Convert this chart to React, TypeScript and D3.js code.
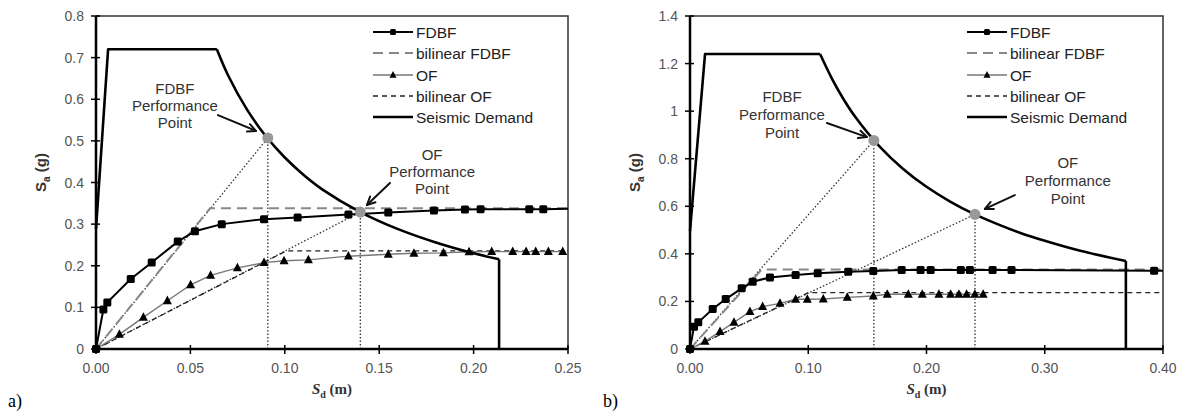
import React from 'react';
import * as d3 from 'd3';

type P = [number, number];

// ---------- Panel a) ----------
const fdbfA: P[] = [[0,0],[0.0039,0.095],[0.006,0.112],[0.0184,0.168],[0.0295,0.208],[0.0433,0.258],[0.0524,0.283],[0.0666,0.300],[0.089,0.312],[0.1068,0.316],[0.1337,0.323],[0.1548,0.328],[0.179,0.333],[0.1954,0.335],[0.2037,0.336],[0.2295,0.336],[0.2369,0.336]];
const fdbfATail: P = [0.25, 0.337];
const ofA: P[] = [[0,0],[0.0124,0.035],[0.0251,0.076],[0.0378,0.116],[0.0501,0.154],[0.0607,0.177],[0.0749,0.195],[0.089,0.2075],[0.0996,0.212],[0.1125,0.214],[0.1337,0.223],[0.1548,0.2275],[0.1684,0.230],[0.184,0.231],[0.1976,0.2335],[0.2096,0.234],[0.2207,0.234],[0.2278,0.234],[0.2329,0.234],[0.2396,0.234],[0.2472,0.234]];
const bilFdbfA: P[] = [[0,0],[0.0604,0.338],[0.25,0.338]];
const bilOfA: P[] = [[0,0],[0.1007,0.2355],[0.25,0.2355]];
const demandARise: P[] = [[0,0.288],[0.0064,0.72],[0.064,0.72]];
const demandAFall: P[] = [[0.064,0.72],[0.07,0.657],[0.08,0.575],[0.09,0.511],[0.10,0.46],[0.11,0.418],[0.12,0.383],[0.14,0.329],[0.16,0.288],[0.18,0.256],[0.20,0.23],[0.2135,0.2155]];
const ppA = { fdbf: [0.091, 0.507] as P, of: [0.14, 0.329] as P };
const yTicksA = [0, 0.1, 0.2, 0.3, 0.4, 0.5, 0.6, 0.7, 0.8];
const xTicksA = [0, 0.05, 0.1, 0.15, 0.2, 0.25];

// ---------- Panel b) ----------
const fdbfB: P[] = [[0,0],[0.0034,0.094],[0.007,0.112],[0.0192,0.168],[0.0302,0.21],[0.0437,0.255],[0.053,0.283],[0.0676,0.301],[0.0893,0.311],[0.108,0.318],[0.1338,0.325],[0.155,0.328],[0.179,0.332],[0.195,0.332],[0.2035,0.332],[0.229,0.332],[0.2367,0.332],[0.2559,0.332],[0.2719,0.332],[0.3925,0.329]];
const fdbfBTail: P = [0.4, 0.329];
const ofB: P[] = [[0,0],[0.0127,0.032],[0.0254,0.073],[0.0372,0.112],[0.0507,0.157],[0.0614,0.178],[0.0761,0.192],[0.0893,0.209],[0.0992,0.209],[0.1127,0.21],[0.133,0.217],[0.155,0.223],[0.1668,0.23],[0.1846,0.23],[0.1964,0.23],[0.2105,0.23],[0.2204,0.23],[0.2274,0.23],[0.2339,0.23],[0.2409,0.23],[0.2479,0.23]];
const bilFdbfB: P[] = [[0,0],[0.0606,0.334],[0.4,0.334]];
const bilOfB: P[] = [[0,0],[0.1,0.2367],[0.4,0.2367]];
const demandBRise: P[] = [[0,0.496],[0.0127,1.24],[0.11,1.24]];
const demandBFall: P[] = [[0.11,1.24],[0.12,1.137],[0.13,1.049],[0.14,0.974],[0.16,0.853],[0.18,0.758],[0.20,0.682],[0.22,0.62],[0.24,0.568],[0.26,0.525],[0.28,0.487],[0.30,0.455],[0.33,0.413],[0.3686,0.370]];
const ppB = { fdbf: [0.1555, 0.877] as P, of: [0.241, 0.566] as P };
const yTicksB = [0, 0.2, 0.4, 0.6, 0.8, 1.0, 1.2, 1.4];
const xTicksB = [0, 0.1, 0.2, 0.3, 0.4];

const legendItems = ['FDBF', 'bilinear FDBF', 'OF', 'bilinear OF', 'Seismic Demand'];
const annText = ['Performance', 'Point'];

interface Ann { text: string; at: P; from: P; to: P; }

interface PanelCfg {
  x0: number; x1: number; y0: number; y1: number;
  xMax: number; yMax: number;
  xTicks: number[]; yTicks: number[];
  yFmt: (v: number) => string;
  fdbf: P[]; fdbfTail: P; of: P[]; bilFdbf: P[]; bilOf: P[];
  rise: P[]; fall: P[];
  pp: { fdbf: P; of: P };
  anns: Ann[]; lineH: number;
  tag: string; tagX: number;
}

const panels: PanelCfg[] = [
  {
    x0: 96, x1: 568, y0: 16, y1: 349, xMax: 0.25, yMax: 0.8,
    xTicks: xTicksA, yTicks: yTicksA, yFmt: (v) => (v === 0 ? '0' : d3.format('.1f')(v)),
    fdbf: fdbfA, fdbfTail: fdbfATail, of: ofA, bilFdbf: bilFdbfA, bilOf: bilOfA,
    rise: demandARise, fall: demandAFall, pp: ppA,
    anns: [
      { text: 'FDBF', at: [0.0418, 0.625], from: [0.0646, 0.562], to: [0.0847, 0.524] },
      { text: 'OF', at: [0.178, 0.466], from: [0.1557, 0.399], to: [0.1435, 0.346] },
    ],
    lineH: 17, tag: 'a)', tagX: 8,
  },
  {
    x0: 690, x1: 1163, y0: 16, y1: 349, xMax: 0.4, yMax: 1.4,
    xTicks: xTicksB, yTicks: yTicksB, yFmt: (v) => d3.format('~g')(v),
    fdbf: fdbfB, fdbfTail: fdbfBTail, of: ofB, bilFdbf: bilFdbfB, bilOf: bilOfB,
    rise: demandBRise, fall: demandBFall, pp: ppB,
    anns: [
      { text: 'FDBF', at: [0.0778, 1.06], from: [0.1158, 0.95], to: [0.1496, 0.891] },
      { text: 'OF', at: [0.3195, 0.782], from: [0.2747, 0.647], to: [0.2494, 0.589] },
    ],
    lineH: 18, tag: 'b)', tagX: 603,
  },
];

const sans = 'Arial, "Liberation Sans", sans-serif';
const serif = '"Times New Roman", "Liberation Serif", serif';

function Square({ x, y, s = 8 }: { x: number; y: number; s?: number }) {
  return <rect x={x - s / 2} y={y - s / 2} width={s} height={s} rx={1.5} fill="#000" />;
}
function Tri({ x, y, s = 9 }: { x: number; y: number; s?: number }) {
  const h = s * 0.95;
  return <path d={`M${x},${y - h * 0.6}L${x + s / 2},${y + h * 0.4}L${x - s / 2},${y + h * 0.4}Z`} fill="#000" />;
}

function Arrow({ a, b }: { a: [number, number]; b: [number, number] }) {
  const ang = Math.atan2(b[1] - a[1], b[0] - a[0]);
  const L = 9, w = 0.45;
  const p1 = [b[0] - L * Math.cos(ang - w), b[1] - L * Math.sin(ang - w)];
  const p2 = [b[0] - L * Math.cos(ang + w), b[1] - L * Math.sin(ang + w)];
  return (
    <g stroke="#111" strokeWidth={2} fill="none" strokeLinecap="round" strokeLinejoin="round">
      <line x1={a[0]} y1={a[1]} x2={b[0]} y2={b[1]} />
      <path d={`M${p1[0]},${p1[1]}L${b[0]},${b[1]}L${p2[0]},${p2[1]}`} />
    </g>
  );
}

function Panel({ c }: { c: PanelCfg }) {
  const x = d3.scaleLinear().domain([0, c.xMax]).range([c.x0, c.x1]);
  const y = d3.scaleLinear().domain([0, c.yMax]).range([c.y1, c.y0]);
  const line = d3.line<P>().x((d) => x(d[0])).y((d) => y(d[1]));
  const smooth = d3.line<P>().x((d) => x(d[0])).y((d) => y(d[1])).curve(d3.curveCatmullRom);
  const lastFall = c.fall[c.fall.length - 1];
  const drop: P[] = [lastFall, [lastFall[0], 0]];
  const lx = c.x0 + 277, lx2 = c.x0 + 317;
  const legY = [32, 53, 75, 96, 117];
  const cx = (c.x0 + c.x1) / 2;
  return (
    <g>
      {/* frame top/right */}
      <path d={`M${c.x0},${c.y0}H${c.x1}V${c.y1}`} fill="none" stroke="#333" strokeWidth={1.5} />
      {/* dotted guide lines */}
      {[c.pp.fdbf, c.pp.of].map((p, i) => (
        <g key={i} stroke="#333" strokeWidth={1.3} strokeDasharray="1.5 2" fill="none">
          <path d={line([[0, 0], p]) || ''} />
          <path d={line([[p[0], 0], p]) || ''} />
        </g>
      ))}
      {/* bilinear */}
      <path d={line(c.bilFdbf) || ''} fill="none" stroke="#888" strokeWidth={2} strokeDasharray="10 6" />
      <path d={line(c.bilOf) || ''} fill="none" stroke="#222" strokeWidth={1.3} strokeDasharray="5 4" />
      {/* OF curve */}
      <path d={line(c.of) || ''} fill="none" stroke="#777" strokeWidth={1.4} />
      {c.of.slice(1).map((d, i) => <Tri key={i} x={x(d[0])} y={y(d[1])} />)}
      {/* FDBF curve */}
      <path d={line([...c.fdbf, c.fdbfTail]) || ''} fill="none" stroke="#000" strokeWidth={2} />
      {c.fdbf.map((d, i) => <Square key={i} x={x(d[0])} y={y(d[1])} />)}
      {/* demand */}
      <g fill="none" stroke="#000" strokeWidth={2.6} strokeLinejoin="round">
        <path d={line(c.rise) || ''} />
        <path d={smooth(c.fall) || ''} />
        <path d={line(drop) || ''} />
      </g>
      {/* performance points */}
      {[c.pp.fdbf, c.pp.of].map((p, i) => (
        <circle key={i} cx={x(p[0])} cy={y(p[1])} r={5.5} fill="#999" />
      ))}
      {/* axes */}
      <line x1={c.x0} x2={c.x0} y1={c.y0} y2={c.y1 + 1} stroke="#000" strokeWidth={2.5} />
      <line x1={c.x0 - 1} x2={c.x1} y1={c.y1} y2={c.y1} stroke="#000" strokeWidth={2.5} />
      {c.yTicks.map((t) => (
        <g key={t}>
          <line x1={c.x0 - 5} x2={c.x0 + 4} y1={y(t)} y2={y(t)} stroke="#000" strokeWidth={1.5} />
          <text x={c.x0 - 12} y={y(t) + 5} textAnchor="end" fontSize={14} fill="#555" fontFamily={sans}>{c.yFmt(t)}</text>
        </g>
      ))}
      {c.xTicks.map((t) => (
        <g key={t}>
          <line x1={x(t)} x2={x(t)} y1={c.y1 - 4} y2={c.y1 + 5} stroke="#000" strokeWidth={1.5} />
          <text x={x(t)} y={c.y1 + 24} textAnchor="middle" fontSize={14} fill="#555" fontFamily={sans}>{d3.format('.2f')(t)}</text>
        </g>
      ))}
      {/* axis titles */}
      <text transform={`translate(${c.x0 - 50},${(c.y0 + c.y1) / 2 - 10}) rotate(-90)`} textAnchor="middle" fontSize={15} fontWeight="bold" fill="#333" fontFamily={sans}>
        S<tspan fontSize={10} dy={4}>a</tspan><tspan dy={-4}> (g)</tspan>
      </text>
      <text x={cx} y={394} textAnchor="middle" fontSize={15} fontWeight="bold" fill="#333" fontFamily={serif}>
        <tspan fontStyle="italic">S</tspan><tspan fontSize={10} dy={4}>d</tspan><tspan dy={-4}> (m)</tspan>
      </text>
      {/* legend */}
      {legendItems.map((name, i) => {
        const yy = legY[i];
        let sample: React.ReactNode = null;
        if (i === 0) sample = <g><line x1={lx} x2={lx2} y1={yy} y2={yy} stroke="#000" strokeWidth={2} /><Square x={(lx + lx2) / 2} y={yy} s={6} /></g>;
        if (i === 1) sample = <line x1={lx} x2={lx2} y1={yy} y2={yy} stroke="#888" strokeWidth={2} strokeDasharray="10 6" />;
        if (i === 2) sample = <g><line x1={lx} x2={lx2} y1={yy} y2={yy} stroke="#777" strokeWidth={1.4} /><Tri x={(lx + lx2) / 2} y={yy} s={7} /></g>;
        if (i === 3) sample = <line x1={lx} x2={lx2} y1={yy} y2={yy} stroke="#222" strokeWidth={1.3} strokeDasharray="5 4" />;
        if (i === 4) sample = <line x1={lx} x2={lx2} y1={yy} y2={yy} stroke="#000" strokeWidth={2.6} />;
        return (
          <g key={name}>
            {sample}
            <text x={lx2 + 3} y={yy + 5.5} fontSize={15.5} fill="#222" fontFamily={sans}>{name}</text>
          </g>
        );
      })}
      {/* annotations */}
      {c.anns.map((a, i) => (
        <g key={i}>
          {[a.text, ...annText].map((t, j) => (
            <text key={j} x={x(a.at[0])} y={y(a.at[1]) + 5 + j * c.lineH} textAnchor="middle" fontSize={15} fill="#333" fontFamily={sans}>{t}</text>
          ))}
          <Arrow a={[x(a.from[0]), y(a.from[1])]} b={[x(a.to[0]), y(a.to[1])]} />
        </g>
      ))}
      <text x={c.tagX} y={407} fontSize={18} fill="#000" fontFamily={serif}>{c.tag}</text>
    </g>
  );
}

export default function App() {
  return (
    <svg width={1183} height={416} style={{ position: 'absolute', left: 0, top: 0, background: '#fff' }}>
      <rect width={1183} height={416} fill="#fff" />
      {panels.map((p) => <Panel key={p.tag} c={p} />)}
    </svg>
  );
}
